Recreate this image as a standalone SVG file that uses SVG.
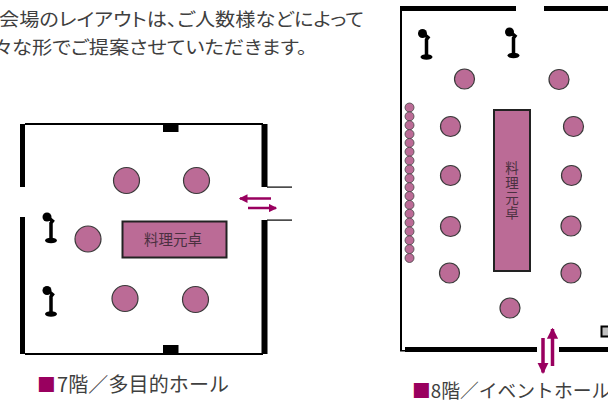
<svg xmlns="http://www.w3.org/2000/svg" width="608" height="405" viewBox="0 0 608 405">
<defs>
<marker id="ah" markerWidth="3.500" markerHeight="3.500" refX="3" refY="1.750" orient="auto"><path d="M0 0L3.500 1.750L0 3.500Z" fill="#99005f"/></marker>
<marker id="ahb" markerWidth="3.200" markerHeight="3.200" refX="2.800" refY="1.600" orient="auto"><path d="M0 0L3.200 1.600L0 3.200Z" fill="#99005f"/></marker>
<g id="mic"><circle cx="0" cy="0" r="4.500" fill="#000"/><path d="M2 1L5.500 4L4 6V22" fill="none" stroke="#000" stroke-width="3.500"/><ellipse cx="4" cy="23.500" rx="6" ry="2.800" fill="#000"/></g>
</defs>
<style>
text{font-family:"Noto Sans CJK JP","Noto Sans",sans-serif;fill:#3f3f3f}
.body{font-size:18.500px;font-feature-settings:"palt"}
.cap{font-size:18.800px}
.t{fill:#bb6b96;stroke:#3a3a3a;stroke-width:1.200}
.tb{fill:#bb6b96;stroke:#222;stroke-width:2}
.ch{fill:#bb6b96;stroke:#444;stroke-width:.8}
.w{fill:#000}
.tt{font-size:14.500px;fill:#4a3040}
.ar{stroke:#99005f;fill:none}
</style>
<rect width="608" height="405" fill="#fff"/>
<g id="intro">
<text class="body" x="-1" y="26" textLength="365" lengthAdjust="spacingAndGlyphs">会場のレイアウトは、ご人数様などによって</text>
<text class="body" x="-7" y="54" textLength="314" lengthAdjust="spacingAndGlyphs">々な形でご提案させていただきます。</text>
</g>
<g id="hall7">
<g id="hall7-walls">
<rect class="w" x="25" y="123" width="238" height="2"/><rect class="w" x="25" y="353" width="238" height="2"/>
<rect class="w" x="20" y="124" width="5" height="63"/><rect class="w" x="20" y="217" width="5" height="137"/>
<rect class="w" x="261.500" y="124" width="6" height="63"/><rect class="w" x="261.500" y="220" width="6" height="134"/>
<rect class="w" x="267" y="186.500" width="25" height="1.200"/><rect class="w" x="267" y="219.500" width="25" height="1.200"/>
<rect class="w" x="163" y="124" width="15.500" height="8"/><rect class="w" x="163" y="345" width="15.500" height="8"/>
</g>
<g id="hall7-tables">
<circle class="t" cx="126.500" cy="180.500" r="13"/><circle class="t" cx="196.500" cy="180.500" r="13"/>
<circle class="t" cx="88" cy="239" r="13"/><circle class="t" cx="125" cy="298.500" r="13"/><circle class="t" cx="195.500" cy="299.500" r="13"/>
</g>
<g id="hall7-buffet"><rect class="tb" x="122.500" y="221.500" width="104" height="36"/><text class="tt" x="173" y="245" text-anchor="middle">料理元卓</text></g>
<use id="hall7-mic1" href="#mic" x="47" y="217"/><use id="hall7-mic2" href="#mic" x="47" y="290.500"/>
<text id="hall7-label" class="cap" y="392"><tspan x="37" fill="#99005f">■</tspan><tspan x="57" textLength="172" style="font-size:20px">7階／多目的ホール</tspan></text>
</g>
<g id="hall8">
<g id="hall8-walls">
<rect class="w" x="400" y="6" width="2" height="345"/><rect class="w" x="400" y="350" width="5" height="1.500"/>
<rect class="w" x="400" y="6" width="116" height="5"/><rect class="w" x="544" y="6" width="64" height="5"/>
<rect class="w" x="405" y="347" width="132" height="5"/><rect class="w" x="559" y="347" width="49" height="5"/>
<rect x="601.500" y="326.500" width="8" height="10" fill="#c0c0c0" stroke="#000" stroke-width="2"/>
</g>
<g id="hall8-tables">
<circle class="t" cx="464.500" cy="79" r="10"/><circle class="t" cx="559" cy="79.500" r="10"/>
<circle class="t" cx="450.500" cy="126.500" r="10"/><circle class="t" cx="573.500" cy="126.500" r="10"/>
<circle class="t" cx="450.500" cy="175.500" r="10"/><circle class="t" cx="571.500" cy="175.500" r="10"/>
<circle class="t" cx="450.500" cy="226.500" r="10"/><circle class="t" cx="571" cy="226" r="10"/>
<circle class="t" cx="449.500" cy="273" r="10"/><circle class="t" cx="571" cy="273" r="10"/>
<circle class="t" cx="510" cy="308" r="10"/>
</g>
<g id="hall8-chairs">
<circle class="ch" cx="409.500" cy="107.500" r="4.500"/><circle class="ch" cx="409.500" cy="116.400" r="4.500"/><circle class="ch" cx="409.500" cy="125.200" r="4.500"/><circle class="ch" cx="409.500" cy="134.100" r="4.500"/><circle class="ch" cx="409.500" cy="142.900" r="4.500"/><circle class="ch" cx="409.500" cy="151.800" r="4.500"/><circle class="ch" cx="409.500" cy="160.600" r="4.500"/><circle class="ch" cx="409.500" cy="169.500" r="4.500"/><circle class="ch" cx="409.500" cy="178.300" r="4.500"/><circle class="ch" cx="409.500" cy="187.200" r="4.500"/><circle class="ch" cx="409.500" cy="196" r="4.500"/><circle class="ch" cx="409.500" cy="204.900" r="4.500"/><circle class="ch" cx="409.500" cy="213.700" r="4.500"/><circle class="ch" cx="409.500" cy="222.600" r="4.500"/><circle class="ch" cx="409.500" cy="231.400" r="4.500"/><circle class="ch" cx="409.500" cy="240.300" r="4.500"/><circle class="ch" cx="409.500" cy="249.100" r="4.500"/><circle class="ch" cx="409.500" cy="258" r="4.500"/>
</g>
<g id="hall8-buffet"><rect class="tb" x="494" y="110" width="36" height="161"/>
<text class="tt" x="512" y="161" style="writing-mode:vertical-rl;font-size:13.500px;letter-spacing:1.500px">料理元卓</text></g>
<use id="hall8-mic1" href="#mic" x="422.500" y="33.500"/><use id="hall8-mic2" href="#mic" x="509.500" y="32"/>
<text id="hall8-label" class="cap" x="412" y="398"><tspan fill="#99005f">■</tspan>8階／イベントホール</text>
</g>
<g id="connectors">
<line class="ar" x1="271" y1="198.500" x2="240" y2="198.500" stroke-width="2.500" marker-end="url(#ah)"/>
<line class="ar" x1="248" y1="208" x2="276" y2="208" stroke-width="2.500" marker-end="url(#ah)"/>
<line class="ar" x1="543" y1="338" x2="543" y2="372.500" stroke-width="3.500" marker-end="url(#ahb)"/>
<line class="ar" x1="552.500" y1="366" x2="552.500" y2="329" stroke-width="3.500" marker-end="url(#ahb)"/>
</g>
</svg>
